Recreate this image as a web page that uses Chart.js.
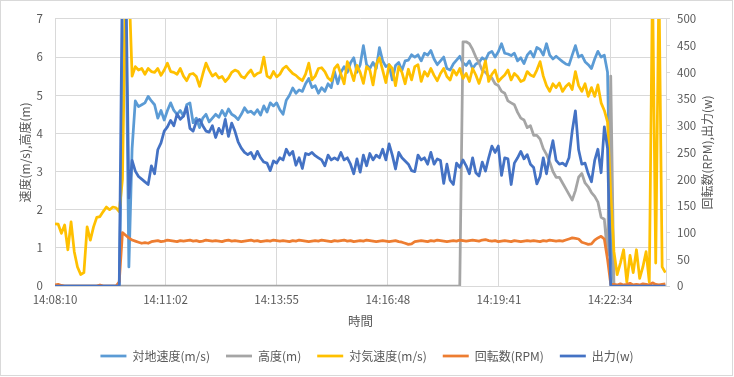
<!DOCTYPE html>
<html>
<head>
<meta charset="utf-8">
<script src="https://cdn.jsdelivr.net/npm/chart.js@4.4.1/dist/chart.umd.min.js"></script>
<style>
  html, body { margin: 0; padding: 0; background: #fff; }
  canvas { display: block; }
</style>
</head>
<body>
<canvas id="myChart" width="734" height="377"></canvas>
<script>
// sample grid: one reading every 5 s from 14:08:10
const seconds = Array.from({ length: 191 }, (_, i) => i * 5);

const tickSeconds = [0, 172, 345, 518, 691, 864];
const tickLabels = ["14:08:10", "14:11:02", "14:13:55", "14:16:48", "14:19:41", "14:22:34"];

// 対地速度 (m/s)
const groundSpeed = [
  0,0,0,0,0,0,0,0,0,0,0,0,0,0,0,0,0,0,0,0,0,
  5.0,7.5,0.5,3.6,
  4.85,4.7,4.75,4.8,4.97,4.85,4.75,4.4,4.6,4.35,
  4.6,4.8,4.6,4.5,4.6,4.45,4.75,4.8,4.28,4.4,
  4.15,4.4,4.5,4.3,4.4,4.5,4.42,4.6,4.45,4.64,
  4.5,4.45,4.36,4.5,4.67,4.55,4.58,4.5,4.62,4.48,
  4.72,4.56,4.8,4.72,4.8,4.62,4.5,4.87,5.0,5.19,
  5.05,5.14,5.1,5.3,5.44,5.2,5.25,5.05,5.2,5.1,
  5.3,5.2,5.62,5.3,5.6,5.75,5.6,5.85,5.98,5.6,
  5.8,6.3,5.8,5.7,5.86,5.7,6.25,5.9,5.75,5.8,
  5.4,5.78,5.86,5.65,5.9,5.92,6.06,6.0,6.06,5.9,
  6.1,6.05,6.17,5.95,5.8,5.9,6.0,5.7,5.66,5.82,
  5.92,6.02,5.85,5.78,5.9,5.7,5.82,5.86,5.98,5.92,
  6.1,6.15,6.0,6.14,6.35,6.1,6.08,6.04,6.1,5.9,
  5.98,5.83,6.05,6.15,6.0,6.25,6.2,6.05,6.35,6.05,
  5.95,6.02,5.95,5.88,5.82,5.79,6.05,6.3,6.0,6.05,
  5.88,5.8,5.7,5.95,6.15,6.0,6.05,5.6,
  1.2,
  0,0,0,0,0,0,0,0,0,0,0,0,0,0,0,0,0
];

// 高度 (m)
const altitude = [
  0,0,0,0,0,0,0,0,0,0,0,0,0,0,0,0,0,0,0,0,
  0,0,0,0,0,0,0,0,0,0,0,0,0,0,0,0,0,0,0,0,
  0,0,0,0,0,0,0,0,0,0,0,0,0,0,0,0,0,0,0,0,
  0,0,0,0,0,0,0,0,0,0,0,0,0,0,0,0,0,0,0,0,
  0,0,0,0,0,0,0,0,0,0,0,0,0,0,0,0,0,0,0,0,
  0,0,0,0,0,0,0,0,0,0,0,0,0,0,0,0,0,0,0,0,
  0,0,0,0,0,0,0,
  6.4,6.4,6.35,6.2,6.0,5.85,5.65,5.6,5.5,5.45,
  5.3,5.25,5.1,5.05,4.85,4.8,4.75,4.55,4.4,4.35,
  4.15,4.2,3.95,3.95,3.85,3.6,3.45,3.25,3.0,2.85,
  2.85,2.7,2.55,2.4,2.25,2.5,2.85,2.95,2.7,2.6,
  2.45,2.35,2.2,1.8,1.75,0.8,
  5.5,
  0,0,0,0,0,0,0,0,0,0,0,0,0,0,0,0,0
];

// 対気速度 (m/s)
const airSpeed = [
  1.63,1.62,1.38,1.6,0.95,1.68,0.9,0.5,0.3,0.35,
  1.55,1.2,1.55,1.8,1.82,1.95,2.07,2.0,2.07,2.05,1.95,
  2.8,8,8,5.5,
  5.75,5.66,5.7,5.55,5.7,5.62,5.6,5.7,5.52,5.66,
  5.84,5.62,5.6,5.55,5.7,5.5,5.38,5.55,5.57,5.49,
  5.23,5.55,5.84,5.65,5.5,5.57,5.45,5.49,5.36,5.45,
  5.6,5.66,5.62,5.49,5.45,5.57,5.66,5.5,5.57,5.6,
  6.0,5.5,5.45,5.62,5.48,5.55,5.7,5.76,5.66,5.57,
  5.52,5.44,5.38,5.55,5.84,5.4,5.5,5.7,5.72,5.62,
  5.45,5.38,5.7,5.8,5.55,5.3,5.88,5.65,5.38,5.78,
  5.6,5.31,5.75,5.66,5.27,5.8,5.98,5.66,5.33,5.8,
  5.7,5.25,5.75,5.6,5.3,5.68,5.4,5.75,5.8,5.36,
  5.62,5.5,5.7,5.52,5.38,5.57,5.7,5.49,5.4,5.66,
  5.53,5.7,5.44,5.57,5.36,5.7,5.53,5.31,5.57,5.9,
  5.36,5.55,5.66,5.36,5.45,5.53,5.66,5.4,5.57,5.49,
  5.36,5.4,5.62,5.53,5.49,5.66,5.88,5.5,5.25,5.1,
  5.3,5.2,5.32,5.1,5.23,5.31,5.15,5.62,5.25,5.1,
  5.3,4.97,5.2,4.97,5.27,4.8,4.6,4.3,
  2.4,0.9,0.3,0.6,0.95,0.1,0.8,0.35,0.95,0.2,
  0.5,0.9,0.1,8,0.6,8,0.5,0.35
];

// 回転数 (RPM)
const rpm = [
  2,3,1,0,0,0,0,0,0,0,0,0,0,0,2,0,0,0,0,0,
  8,
  100,95,90,86,84,82,80,81,80,83,
  84,85,83,84,86,85,84,83,85,84,
  85,86,84,85,83,84,86,85,84,85,
  84,83,85,86,84,85,84,83,84,85,
  86,84,85,83,84,85,84,86,85,84,
  85,84,83,85,84,86,85,84,83,84,
  85,84,86,85,84,83,85,84,85,86,
  84,85,83,84,85,84,86,85,84,83,
  84,85,84,83,84,85,83,82,80,78,
  79,83,84,85,84,83,85,84,86,85,
  84,83,84,85,84,86,85,84,85,86,
  85,84,86,87,85,84,85,83,84,85,
  84,83,85,84,83,84,85,84,85,84,
  83,85,84,86,85,84,85,84,86,88,
  90,89,88,82,80,78,79,86,90,93,
  88,
  50,
  3,
  3,2,4,2,3,5,2,3,2,4,3,2,6,3,2,3,4
];

// 出力 (w)
const power = [
  0,0,0,0,0,0,0,0,0,0,0,0,0,0,0,0,0,0,0,0,0,
  600,600,165,235,
  215,205,200,195,190,225,210,255,268,290,
  298,310,300,322,312,318,335,295,290,308,
  312,300,290,288,300,278,295,285,312,280,
  305,290,270,258,250,246,250,238,252,240,
  232,230,216,234,230,240,236,256,245,252,
  226,240,220,248,246,250,244,240,236,225,
  245,236,240,236,250,236,240,228,210,238,
  213,245,225,248,236,245,240,256,236,266,
  245,219,250,240,234,228,216,214,245,236,
  240,228,250,228,238,235,192,228,198,190,
  230,222,236,225,210,240,212,206,232,215,
  240,262,250,262,207,240,238,190,230,240,
  252,238,246,228,222,191,205,240,210,245,
  272,235,228,230,225,240,290,328,255,228,
  230,210,195,235,256,212,298,258,
  0,0,0,0,0,0,0,0,0,0,0,0,0,0,0,0,0,0
];

Chart.defaults.font.family = '"Noto Sans CJK JP", sans-serif';
Chart.defaults.color = '#595959';

const frame = {
  id: 'frame',
  beforeDraw(chart) {
    const { ctx, width, height } = chart;
    ctx.save();
    ctx.fillStyle = '#ffffff';
    ctx.fillRect(0, 0, width, height);
    ctx.restore();
  },
  afterDraw(chart) {
    const { ctx, chartArea } = chart;
    ctx.save();
    ctx.strokeStyle = '#d9d9d9';
    ctx.lineWidth = 1;
    ctx.strokeRect(0.5, 0.5, 732, 375);
    // right axis title reads bottom-to-top like the left one
    ctx.translate(707, (chartArea.top + chartArea.bottom) / 2);
    ctx.rotate(-Math.PI / 2);
    ctx.fillStyle = '#595959';
    ctx.font = '12px "Noto Sans CJK JP"';
    ctx.textAlign = 'center';
    ctx.textBaseline = 'middle';
    ctx.fillText('回転数(RPM),出力(w)', 0, 0);
    ctx.restore();
  }
};

function line(label, data, color, axis, order) {
  return {
    label: label,
    data: data,
    borderColor: color,
    backgroundColor: color,
    borderWidth: 2.75,
    pointRadius: 0,
    tension: 0,
    borderJoinStyle: 'round',
    yAxisID: axis,
    order: order,
  };
}

const ctx = document.getElementById('myChart');

const myChart = new Chart(ctx, {
  type: 'line',
  plugins: [frame],
  data: {
    labels: seconds,
    datasets: [
      line('対地速度(m/s)', groundSpeed, '#5B9BD5', 'y', 5),
      line('高度(m)', altitude, '#A5A5A5', 'y', 4),
      line('対気速度(m/s)', airSpeed, '#FFC000', 'y', 3),
      line('回転数(RPM)', rpm, '#ED7D31', 'y2', 2),
      line('出力(w)', power, '#4472C4', 'y2', 1),
    ],
  },
  options: {
    responsive: false,
    animation: false,
    events: [],
    layout: {
      padding: { top: 15, bottom: 5, left: 0, right: 0 },
    },
    plugins: {
      tooltip: { enabled: false },
      legend: {
        display: true,
        position: 'bottom',
        labels: {
          usePointStyle: true,
          pointStyle: 'line',
          pointStyleWidth: 26,
          boxHeight: 12,
          padding: 16,
          color: '#595959',
          font: { size: 12 },
          sort: (a, b) => a.datasetIndex - b.datasetIndex,
        },
      },
    },
    scales: {
      x: {
        type: 'linear',
        min: 0,
        max: 951,
        afterBuildTicks: (scale) => {
          scale.ticks = tickSeconds.map((v) => ({ value: v }));
        },
        afterFit: (scale) => { scale.height = 48; },
        ticks: {
          autoSkip: false,
          maxRotation: 0,
          padding: 7,
          font: { size: 11.5 },
          color: '#595959',
          callback: (value, index) => tickLabels[index],
        },
        grid: { color: '#d9d9d9', drawTicks: false },
        border: { color: '#d9d9d9' },
        title: {
          display: true,
          text: '時間',
          color: '#595959',
          font: { size: 12.5 },
          padding: { top: 0, bottom: 5 },
        },
      },
      y: {
        position: 'left',
        min: 0,
        max: 7,
        afterFit: (scale) => { scale.width = 55; },
        ticks: {
          stepSize: 1,
          padding: 12,
          font: { size: 11.5 },
          color: '#595959',
        },
        grid: { color: '#d9d9d9', drawTicks: false },
        border: { display: false },
        title: {
          display: true,
          text: '速度(m/s),高度(m)',
          color: '#595959',
          font: { size: 12 },
          padding: { top: 18, bottom: 0 },
        },
      },
      y2: {
        position: 'right',
        min: 0,
        max: 500,
        afterFit: (scale) => { scale.width = 68; },
        ticks: {
          stepSize: 50,
          padding: 7,
          font: { size: 11.5 },
          color: '#595959',
        },
        grid: {
          drawOnChartArea: false,
          drawTicks: true,
          tickLength: 4,
          color: '#d9d9d9',
        },
        border: { color: '#d9d9d9' },
      },
    },
  },
});
</script>
</body>
</html>
